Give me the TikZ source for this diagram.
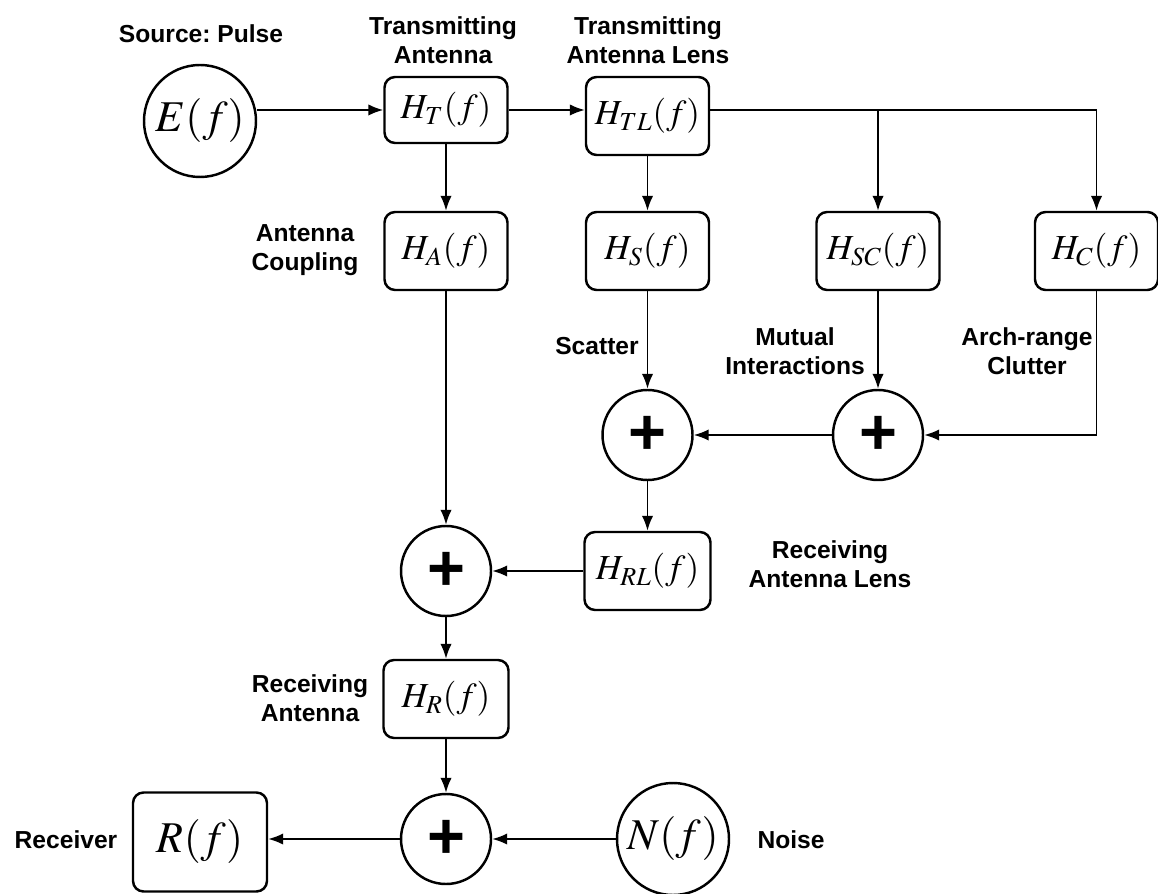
\documentclass[tikz,border=0pt]{standalone}
\usepackage{mathptmx}
\usepackage{fontspec}
\setsansfont{Liberation Sans}
\usetikzlibrary{positioning, calc, arrows.meta}

\begin{document}
\begin{tikzpicture}[
  >={Latex[length=8.5pt,width=6.5pt]},
  line width=1.1pt,
  blk/.style={draw, line width=1.4pt, rounded corners=6pt, inner sep=0pt,
              minimum width=2.46cm, minimum height=1.56cm,
              font=\fontsize{20}{24}\selectfont},
  src/.style={circle, draw, line width=1.4pt, inner sep=0pt,
              minimum size=2.24cm, font=\fontsize{25}{30}\selectfont},
  sumnode/.style={circle, draw, line width=1.4pt, inner sep=0pt,
                  minimum size=1.80cm,
                  font=\sffamily\bfseries\fontsize{37}{37}\selectfont},
  lbl/.style={align=center, inner sep=0pt,
              font=\sffamily\bfseries\fontsize{14}{16.5}\selectfont\frenchspacing},
]
\useasboundingbox (0,0) rectangle (23.16,-17.88);

% ---------- source and transmit chain ----------
\node[src] (eSrc) at (4.00,-2.42) {$E(f)$};
\node[lbl] (eLbl) at (4.02,-0.68) {Source: Pulse};

\node[blk, minimum height=1.32cm] (hT) at (8.92,-2.20) {$H_T(f)$};
\node[lbl] (hTLbl) at (8.86,-0.80) {Transmitting\\Antenna};

\node[blk] (hTL) at (12.95,-2.32) {$H_{TL}(f)$};
\node[lbl] (hTLLbl) at (12.96,-0.80) {Transmitting\\Antenna Lens};

% ---------- channel paths ----------
\node[blk] (hA)  at (8.92,-5.02)  {$H_A(f)$};
\node[blk] (hS)  at (12.95,-5.02) {$H_S(f)$};
\node[blk] (hSC) at (17.56,-5.02) {$H_{SC}(f)$};
\node[blk] (hC)  at (21.93,-5.02) {$H_C(f)$};

\node[lbl] (aLbl)  at (6.10,-5.00)  {Antenna\\Coupling};
\node[lbl] (sLbl)  at (11.94,-6.92) {Scatter};
\node[lbl] (scLbl) at (15.90,-7.02) {Mutual\\Interactions};
\node[lbl] (cLbl)  at (20.54,-7.02) {Arch-range\\Clutter};

% ---------- summing junctions ----------
\node[sumnode] (sumS) at (12.95,-8.70) {+};
\node[sumnode] (sumM) at (17.56,-8.70) {+};
\node[sumnode] (sumT) at (8.92,-11.42) {+};
\node[sumnode] (sumR) at (8.92,-16.78) {+};

% ---------- receive chain ----------
\node[blk, minimum width=2.52cm] (hRL) at (12.95,-11.42) {$H_{RL}(f)$};
\node[lbl] (rlLbl) at (16.60,-11.28) {Receiving\\Antenna Lens};

\node[blk, minimum width=2.50cm] (hR) at (8.92,-13.98) {$H_R(f)$};
\node[lbl] (rLbl) at (6.20,-13.96) {Receiving\\Antenna};

\node[blk, minimum width=2.68cm, minimum height=1.98cm,
      font=\fontsize{25}{30}\selectfont] (rOut) at (4.00,-16.84) {$R(f)$};
\node[lbl] (rOutLbl) at (1.32,-16.80) {Receiver};

\node[src] (nSrc) at (13.46,-16.78) {$N(f)$};
\node[lbl] (nLbl) at (15.82,-16.80) {Noise};

% ---------- connectors ----------
\draw[->] (eSrc.east |- hT.west) -- (hT.west);
\draw[->] (hT.east) -- (hT.east -| hTL.west);
\draw[->] (hT.east -| hTL.east) -| (hC.north);
\coordinate (tapSC) at (hT.east -| hSC.north);
\draw[->] (tapSC) -- (hSC.north);

\draw[->] (hT.south) -- (hA.north);
\draw[->] (hTL.south) -- (hS.north);

\draw[->] (hS.south) -- (sumS.north);
\draw[->] (hSC.south) -- (sumM.north);
\draw[->] (hC.south) |- (sumM.east);
\draw[->] (sumM.west) -- (sumS.east);

\draw[->] (sumS.south) -- (hRL.north);
\draw[->] (hRL.west) -- (sumT.east);
\draw[->] (hA.south) -- (sumT.north);
\draw[->] (sumT.south) -- (hR.north);
\draw[->] (hR.south) -- (sumR.north);

\draw[->] (nSrc.west) -- (sumR.east);
\draw[->] (sumR.west) -- (sumR.west -| rOut.east);

\end{tikzpicture}
\end{document}
